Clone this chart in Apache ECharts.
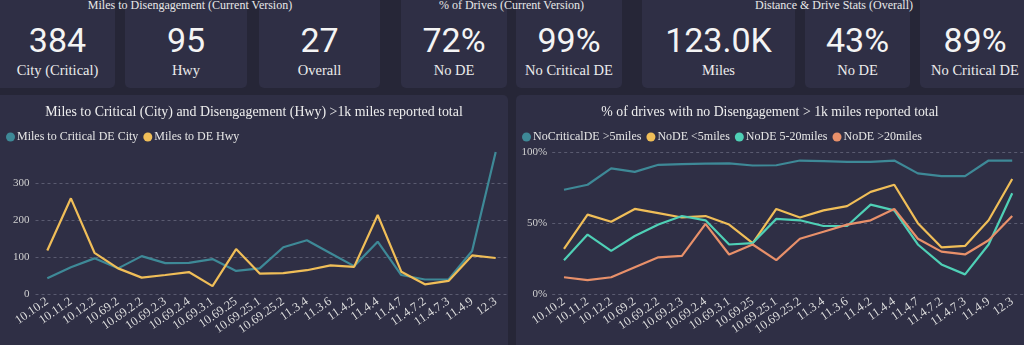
<!DOCTYPE html>
<html>
<head>
<meta charset="utf-8">
<script src="https://cdn.jsdelivr.net/npm/echarts@6/dist/echarts.min.js"></script>
<style>
  html, body { margin:0; padding:0; width:1024px; height:345px; overflow:hidden; background:#262637; }
  .tile { position:absolute; top:-10px; height:98px; background:#2f2f45; border-radius:5px; }
  .num { position:absolute; left:0; right:0; top:30px; text-align:center; color:#f4f4f4; font-family:Roboto, sans-serif; font-size:34px; line-height:40px; }
  .lab { position:absolute; left:0; right:0; top:71px; text-align:center; color:#ececec; font-family:"Liberation Serif", serif; font-size:14.5px; line-height:18px; }
  .grp { position:absolute; top:-1px; text-align:center; color:#e8e8e8; font-family:"Liberation Serif", serif; font-size:12px; line-height:12px; white-space:nowrap; }
  .panel { position:absolute; top:95px; height:260px; background:#2f2f45; border-radius:5px; }
  .chart { position:absolute; top:95px; height:250px; }
</style>
</head>
<body>
<div id="tiles"></div>
<div class="panel" style="left:-5px; width:513px;"></div>
<div class="panel" style="left:516px; width:515px;"></div>
<div id="c1" class="chart" style="left:0px; width:508px;"></div>
<div id="c2" class="chart" style="left:516px; width:508px;"></div>
<script>
// ---- data ----
const categories = ['10.10.2','10.11.2','10.12.2','10.69.2','10.69.2.2','10.69.2.3','10.69.2.4','10.69.3.1','10.69.25','10.69.25.1','10.69.25.2','11.3.4','11.3.6','11.4.2','11.4.4','11.4.7','11.4.7.2','11.4.7.3','11.4.9','12.3'];
const milesCriticalCity = [43,73,97,70,103,84,85,95,63,70,127,146,111,76,142,52,40,40,117,384];
const milesDEHwy = [118,259,112,70,45,52,60,22,122,56,57,65,78,74,214,61,27,36,105,98];
const noCriticalDE5 = [73.5,77,88.5,86,91,91.5,91.8,92,90.5,90.7,94,93.6,93,93,94,85,83,83,94,94];
const noDELt5 = [32,56,51,60,57,54,55,49,36,60,54,59,62,72,77,50,33,34,52,81];
const noDE5to20 = [24,42,30.5,41,49,55,52,35,36,53,52,48,48,63,59,35,21,14,35,71];
const noDEGt20 = [12,10,12,19,26,27,49.5,28,35,24,39,44,49,52,60,39,30,28,38,55];

const statValues = ['384','95','27','72%','99%','123.0K','43%','89%'];
const statLabels = ['City (Critical)','Hwy','Overall','No DE','No Critical DE','Miles','No DE','No Critical DE'];
const groupTitles = ['Miles to Disengagement (Current Version)','% of Drives (Current Version)','Distance & Drive Stats (Overall)'];

// ---- layout of tiles ----
const tileBoxes = [[-5,115],[125,247],[259,380],[401,507],[516,622],[642,795],[805,910],[920,1030]];
const groupBoxes = [[0,380],[401,622],[642,1026]];
const tilesEl = document.getElementById('tiles');
tileBoxes.forEach((b,i)=>{
  const d = document.createElement('div');
  d.className='tile'; d.style.left=b[0]+'px'; d.style.width=(b[1]-b[0])+'px';
  const n = document.createElement('div'); n.className='num'; n.textContent=statValues[i];
  const l = document.createElement('div'); l.className='lab'; l.textContent=statLabels[i];
  if (i===0) { n.style.left='5px'; l.style.left='5px'; }
  d.appendChild(n); d.appendChild(l); tilesEl.appendChild(d);
});
groupBoxes.forEach((b,i)=>{
  const g = document.createElement('div');
  g.className='grp'; g.style.left=b[0]+'px'; g.style.width=(b[1]-b[0])+'px';
  g.textContent=groupTitles[i]; tilesEl.appendChild(g);
});

// ---- charts ----
const serif = 'Liberation Serif';
const C_DARKTEAL = '#3e8997', C_YELLOW = '#f0be58', C_TEAL = '#4fd0b6', C_SALMON = '#e8906a';

function baseOption(title, gridLeft, gridRight, titleSize) {
  return {
    animation:false,
    title:{ text:title, left:'center', top:5, textStyle:{ color:'#eeeeee', fontFamily:serif, fontWeight:'normal', fontSize:titleSize } },
    legend:{ left:1, top:31, icon:'circle', itemWidth:9, itemHeight:9, itemGap:5,
      textStyle:{ color:'#e6e6e6', fontFamily:serif, fontSize:12, padding:[0,0,0,-3] } },
    grid:{ left:gridLeft, right:gridRight, top:57, bottom:50.7 },
    xAxis:{ type:'category', data:categories, boundaryGap:true,
      axisLine:{show:false}, axisTick:{show:false},
      axisLabel:{ rotate:35, interval:0, margin:6, color:'#dddddd', fontFamily:serif, fontSize:12.5 } },
  };
}

const c1 = echarts.init(document.getElementById('c1'), null, {renderer:'canvas'});
const o1 = baseOption('Miles to Critical (City) and Disengagement (Hwy) >1k miles reported total', 35.5, 0.5, 13.9);
o1.yAxis = { type:'value', min:0, max:'dataMax', interval:100,
  axisLabel:{ color:'#d0d0d0', fontFamily:serif, fontSize:11, margin:6, showMaxLabel:false },
  splitLine:{ showMaxLine:false, lineStyle:{ color:'#5a5b70', type:[3,3] } } };
o1.series = [
  { name:'Miles to Critical DE City', type:'line', data:milesCriticalCity, symbol:'none', lineStyle:{width:2.2}, color:C_DARKTEAL },
  { name:'Miles to DE Hwy', type:'line', data:milesDEHwy, symbol:'none', lineStyle:{width:2.2}, color:C_YELLOW }
];
c1.setOption(o1);

const c2 = echarts.init(document.getElementById('c2'), null, {renderer:'canvas'});
const o2 = baseOption('% of drives with no Disengagement > 1k miles reported total', 36.2, -1.2, 13.8);
o2.yAxis = { type:'value', min:0, max:100, interval:50,
  axisLabel:{ color:'#d0d0d0', fontFamily:serif, fontSize:11, margin:5, formatter:'{value}%' },
  splitLine:{ lineStyle:{ color:'#5a5b70', type:[3,3] } } };
o2.series = [
  { name:'NoCriticalDE >5miles', type:'line', data:noCriticalDE5, symbol:'none', lineStyle:{width:2.2}, color:C_DARKTEAL },
  { name:'NoDE <5miles', type:'line', data:noDELt5, symbol:'none', lineStyle:{width:2.2}, color:C_YELLOW },
  { name:'NoDE 5-20miles', type:'line', data:noDE5to20, symbol:'none', lineStyle:{width:2.2}, color:C_TEAL },
  { name:'NoDE >20miles', type:'line', data:noDEGt20, symbol:'none', lineStyle:{width:2.2}, color:C_SALMON }
];
c2.setOption(o2);
</script>
</body>
</html>
